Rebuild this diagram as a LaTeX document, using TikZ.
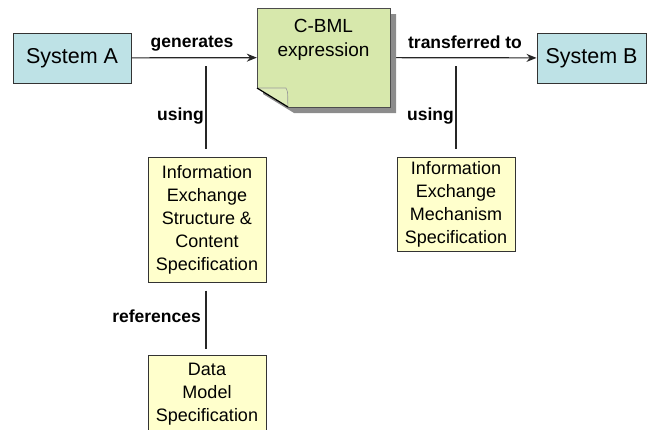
\documentclass[tikz,border=0pt]{standalone}
\usepackage{fontspec}
\setmainfont{Liberation Sans}
\usetikzlibrary{arrows.meta}

\definecolor{sysblue}{RGB}{190,226,230}
\definecolor{notegreen}{RGB}{215,232,172}
\definecolor{specyellow}{RGB}{255,255,204}

\tikzset{
 sysbox/.style={draw=black!80, fill=sysblue, line width=1pt, minimum width=118pt,
   minimum height=50pt, inner sep=0pt, font=\fontsize{21.5}{24}\selectfont},
 specbox/.style={draw=black!80, fill=specyellow, line width=1pt, minimum width=118pt,
   align=center, inner sep=0pt, font=\fontsize{18}{23}\selectfont},
 rel/.style={font=\bfseries\fontsize{17.5}{20}\selectfont, inner sep=0pt},
 flow/.style={line width=1.2pt, black!85, -{Stealth[length=10pt,width=8pt]}},
 link/.style={line width=1.7pt, black!85}
}

\begin{document}
\begin{tikzpicture}[x=1pt,y=-1pt]
 \useasboundingbox (0,0) rectangle (647,429);

 % systems
 \node [sysbox] (sysA) at (72,58) {System A};
 \node [sysbox, minimum width=109pt] (sysB) at (591.5,58) {System B};

 % the note that carries the expression
 \node [minimum width=133pt, minimum height=99pt, inner sep=0pt] (cbml) at (323.5,57.5) {};

 \draw [flow] (sysA) -- (cbml);
 \draw [flow] (cbml) -- (sysB);

 \fill [black!45] (263,14) -- (396,14) -- (396,113) -- (294,113) -- (263,94) -- cycle;
 \fill [notegreen] (257,8) -- (390,8) -- (390,107) -- (288,107) -- (257,88) -- cycle;
 \draw [black!70, line width=0.6pt] (288,107) -- (390,107) -- (390,8) -- (257,8) -- (257,88);
 \draw [black!40, line width=0.6pt, fill=notegreen!85!white] (257,88) -- (286,88)
   .. controls (289,92) and (287,100) .. (288,107);
 \draw [black, line width=1.2pt] (257,88) -- (288,107);
 \node [align=center, font=\fontsize{19}{24}\selectfont] (cbmltext) at (323.5,40) {C-BML\\expression};

 \node [rel] (gen) at (192,44) {generates};
 \node [rel] (trans) at (465,42) {transferred to};

 % specifications
 \node [specbox, minimum height=125pt] (iescs) at (207,219.5)
   {Information\\Exchange\\Structure \&\\Content\\Specification};
 \node [specbox, minimum height=94pt] (iems) at (456,204)
   {Information\\Exchange\\Mechanism\\Specification};
 \node [specbox, minimum height=79pt] (dms) at (207,394.5)
   {Data\\Model\\Specification};

 \coordinate (useA) at (206,66);
 \coordinate (useB) at (456,66);
 \draw [link, shorten >=8pt] (useA) -- (useA |- iescs.north);
 \draw [link, shorten >=8pt] (useB) -- (iems.north);
 \draw [link, shorten <=8pt, shorten >=6pt] (useA |- iescs.south) -- (useA |- dms.north);

 \node [rel, anchor=east] (usingA) at (204,116) {using};
 \node [rel, anchor=east] (usingB) at (454,116) {using};
 \node [rel, anchor=east] (refs) at (201,316) {references};
\end{tikzpicture}
\end{document}
